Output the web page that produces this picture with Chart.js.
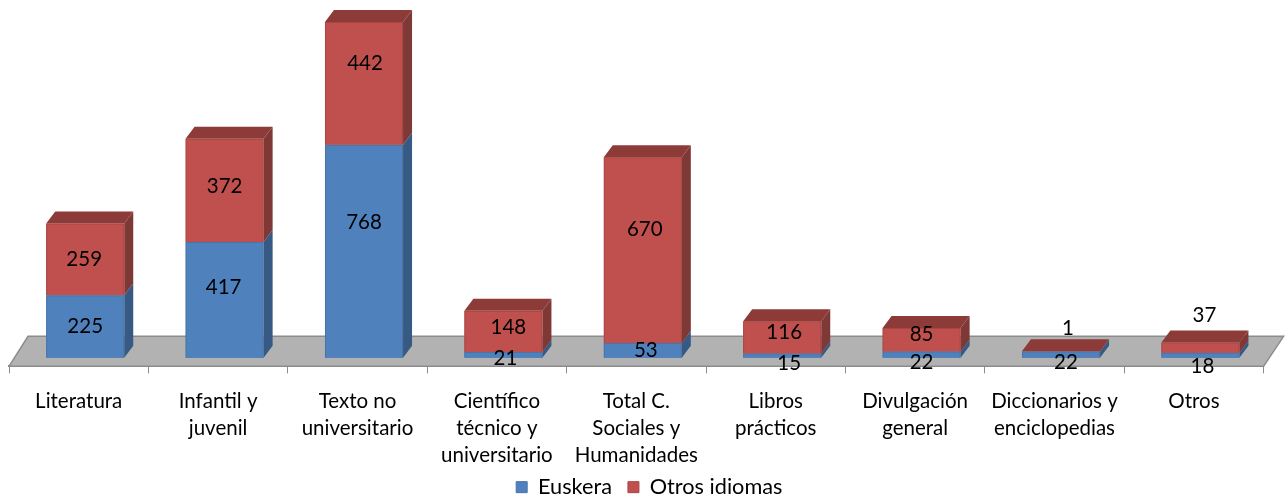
<!DOCTYPE html>
<html>
<head>
<meta charset="utf-8">
<style>body { margin: 0; background: #fff; }</style>
<script src="https://cdn.jsdelivr.net/npm/chart.js@4"></script>
</head>
<body>
<canvas id="libros" width="1288" height="500"></canvas>
<script>
var categories = [
    'Literatura',
    ['Infantil y', 'juvenil'],
    ['Texto no', 'universitario'],
    ['Científico', 'técnico y', 'universitario'],
    ['Total C.', 'Sociales y', 'Humanidades'],
    ['Libros', 'prácticos'],
    ['Divulgación', 'general'],
    ['Diccionarios y', 'enciclopedias'],
    'Otros'
];
var euskera = [225, 417, 768, 21, 53, 15, 22, 22, 18];
var otrosIdiomas = [259, 372, 442, 148, 670, 116, 85, 1, 37];

// Excel moved the value labels around in its 3D view, so each one gets a nudge
var euskeraNudge = [[0, 0], [-1, -12], [0, -29], [2, 4], [3, 0], [7, 8], [0, 8], [5, 8], [2, 11]];
var otrosNudge = [[-1, 0], [0, -4], [1, -20], [5, -4], [2, -21], [2, -5], [0, -5], [7, -23], [4, -32]];

var frontColors = ['#4f81bd', '#c0504d'];
var edgeColors = ['#4a74a8', '#a94744'];
var sideColors = ['#375a84', '#7e3836'];
var topColors = ['#3f6896', '#8c3b39'];

// depth of the bars and of the grey floor
var barDepthX = 9, barDepthY = 12;
var floorDepthX = 19, floorDepthY = 30;

function polygon(ctx, pts, fill, stroke) {
    ctx.beginPath();
    ctx.moveTo(pts[0][0], pts[0][1]);
    for (var i = 1; i < pts.length; i++) ctx.lineTo(pts[i][0], pts[i][1]);
    ctx.closePath();
    ctx.fillStyle = fill;
    ctx.fill();
    if (stroke) {
        ctx.strokeStyle = stroke;
        ctx.stroke();
    }
}

var fake3d = {
    id: 'fake3d',
    afterLayout: function (chart) {
        // legend sits a bit right of the plot centre in the original
        chart.legend.left += 13;
        chart.legend.right += 13;
        // three-line tick labels reach past the scale box, do not clip them
        chart.scales.x.bottom += 14;
    },
    afterDatasetsUpdate: function (chart) {
        // bars stand in the middle of the floor, so they sit right of the ticks
        chart.data.datasets.forEach(function (ds, i) {
            chart.getDatasetMeta(i).data.forEach(function (bar) {
                bar.x += 6.5;
            });
        });
    },
    beforeDatasetsDraw: function (chart) {
        var ctx = chart.ctx, area = chart.chartArea;
        ctx.save();
        ctx.lineWidth = 1.5;
        polygon(ctx, [
            [area.left, area.bottom],
            [area.left + floorDepthX, area.bottom - floorDepthY],
            [area.right + floorDepthX + 1, area.bottom - floorDepthY],
            [area.right, area.bottom]
        ], '#b2b2b2', '#8c8c8c');
        ctx.lineWidth = 1;
        chart.data.datasets.forEach(function (ds, i) {
            chart.getDatasetMeta(i).data.forEach(function (bar) {
                var l = bar.x - bar.width / 2, r = bar.x + bar.width / 2;
                var t = bar.y, b = bar.base;
                polygon(ctx, [[r, b], [r + barDepthX, b - barDepthY], [r + barDepthX, t - barDepthY], [r, t]], sideColors[i]);
                if (i === 1) {
                    polygon(ctx, [[l, t], [l + barDepthX, t - barDepthY], [r + barDepthX, t - barDepthY], [r, t]], topColors[i]);
                }
                // underlay so the bar border does not show a pale seam
                polygon(ctx, [[l, t], [r, t], [r, b], [l, b]], edgeColors[i]);
            });
        });
        ctx.restore();
    },
    afterDatasetsDraw: function (chart) {
        var ctx = chart.ctx;
        ctx.save();
        ctx.font = '20.5px Lato';
        ctx.fillStyle = '#000';
        ctx.textAlign = 'center';
        ctx.textBaseline = 'middle';
        var nudges = [euskeraNudge, otrosNudge];
        chart.data.datasets.forEach(function (ds, i) {
            chart.getDatasetMeta(i).data.forEach(function (bar, j) {
                var x = bar.x + nudges[i][j][0];
                var y = (bar.y + bar.base) / 2 + nudges[i][j][1];
                ctx.fillText(ds.data[j], x, y);
            });
        });
        ctx.restore();
    }
};

new Chart(document.getElementById('libros'), {
    type: 'bar',
    data: {
        labels: categories,
        datasets: [
            { label: 'Euskera', data: euskera, backgroundColor: frontColors[0], borderColor: edgeColors[0], borderWidth: 1 },
            { label: 'Otros idiomas', data: otrosIdiomas, backgroundColor: frontColors[1], borderColor: edgeColors[1], borderWidth: 1 }
        ]
    },
    options: {
        responsive: false,
        animation: false,
        barPercentage: 0.56,
        categoryPercentage: 1,
        layout: { padding: { top: 11, left: 9, right: 24.4, bottom: -8 } },
        scales: {
            x: {
                stacked: true,
                afterFit: function (scale) { scale.height = 94; },
                border: { color: '#8c8c8c', width: 2 },
                grid: { drawOnChartArea: false, color: '#8c8c8c', tickLength: 7 },
                ticks: {
                    autoSkip: false,
                    maxRotation: 0,
                    minRotation: 0,
                    color: '#000',
                    padding: 15,
                    font: { family: 'Lato', size: 20.5, lineHeight: 1.317 }
                }
            },
            y: { stacked: true, display: false, min: -31, max: 1250 }
        },
        plugins: {
            tooltip: { enabled: false },
            legend: {
                position: 'bottom',
                labels: {
                    boxWidth: 11,
                    boxHeight: 11,
                    padding: 16,
                    color: '#000',
                    font: { family: 'Lato', size: 21.7 }
                }
            }
        }
    },
    plugins: [fake3d]
});
</script>
</body>
</html>
